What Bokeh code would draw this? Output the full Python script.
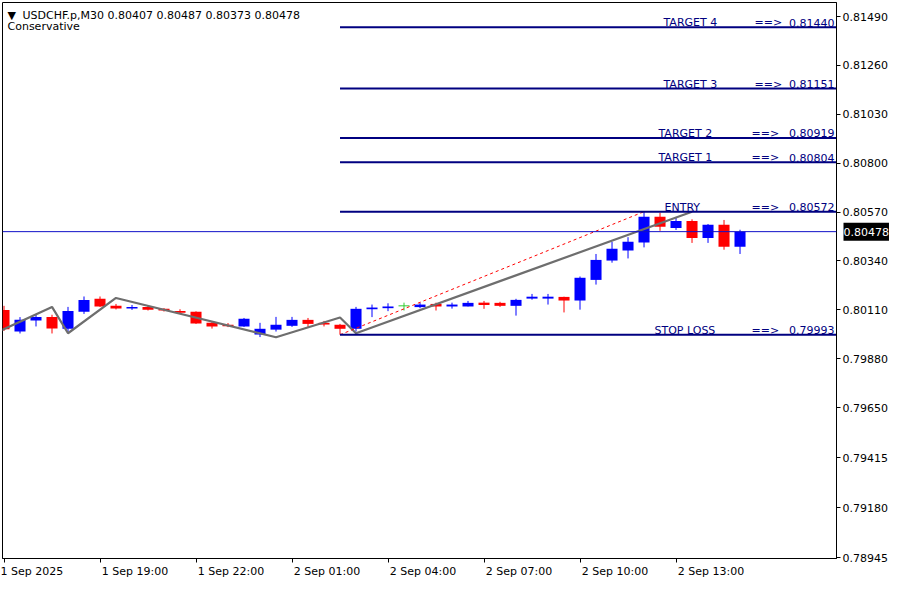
from bokeh.plotting import figure
from bokeh.models import Range1d, FixedTicker, PrintfTickFormatter, Label, ColumnDataSource, Span
from bokeh.embed import file_html
from bokeh.resources import INLINE

# ---------------- data ----------------
symbol = "USDCHF.p,M30"
study = "Conservative"
time_labels = {0: "1 Sep 2025", 6: "1 Sep 19:00", 12: "1 Sep 22:00", 18: "2 Sep 01:00",
               24: "2 Sep 04:00", 30: "2 Sep 07:00", 36: "2 Sep 10:00", 42: "2 Sep 13:00"}

opens = [0.80110, 0.80008, 0.80060, 0.80076, 0.80021, 0.80101, 0.80162, 0.80129, 0.80116, 0.80123,
         0.80115, 0.80105, 0.80101, 0.80049, 0.80040, 0.80032, 0.79994, 0.80017, 0.80035, 0.80063,
         0.80049, 0.80040, 0.80021, 0.80113, 0.80118, 0.80129, 0.80123, 0.80138, 0.80126, 0.80126,
         0.80144, 0.80143, 0.80129, 0.80163, 0.80163, 0.80171, 0.80154, 0.80251, 0.80342, 0.80389,
         0.80427, 0.80548, 0.80495, 0.80528, 0.80448, 0.80510, 0.80407]
highs = [0.80129, 0.80076, 0.80087, 0.80087, 0.80124, 0.80173, 0.80173, 0.80138, 0.80133, 0.80129,
         0.80118, 0.80113, 0.80103, 0.80055, 0.80048, 0.80072, 0.80049, 0.80077, 0.80077, 0.80072,
         0.80058, 0.80044, 0.80124, 0.80135, 0.80141, 0.80144, 0.80144, 0.80144, 0.80144, 0.80152,
         0.80152, 0.80148, 0.80162, 0.80185, 0.80185, 0.80172, 0.80267, 0.80373, 0.80430, 0.80452,
         0.80572, 0.80567, 0.80543, 0.80536, 0.80514, 0.80533, 0.80487]
lows = [0.80011, 0.79999, 0.80032, 0.79999, 0.80005, 0.80091, 0.80124, 0.80112, 0.80110, 0.80107,
        0.80102, 0.80091, 0.80044, 0.80022, 0.80029, 0.80030, 0.79982, 0.80008, 0.80030, 0.80030,
        0.80032, 0.79993, 0.80008, 0.80076, 0.80104, 0.80107, 0.80118, 0.80107, 0.80116, 0.80126,
        0.80115, 0.80124, 0.80083, 0.80158, 0.80135, 0.80098, 0.80111, 0.80229, 0.80332, 0.80352,
        0.80404, 0.80482, 0.80486, 0.80425, 0.80425, 0.80393, 0.80373]
closes = [0.80019, 0.80063, 0.80076, 0.80022, 0.80105, 0.80157, 0.80126, 0.80116, 0.80124, 0.80111,
          0.80107, 0.80096, 0.80046, 0.80032, 0.80033, 0.80068, 0.80021, 0.80040, 0.80063, 0.80044,
          0.80041, 0.80021, 0.80115, 0.80121, 0.80126, 0.80129, 0.80135, 0.80126, 0.80135, 0.80143,
          0.80133, 0.80129, 0.80157, 0.80172, 0.80172, 0.80154, 0.80261, 0.80345, 0.80397, 0.80430,
          0.80548, 0.80501, 0.80528, 0.80448, 0.80510, 0.80407, 0.80478]

zigzag_bar = [-0.2, 3, 4, 7, 17, 21, 22, 43]
zigzag_price = [0.80013, 0.80124, 0.80000, 0.80166, 0.79981, 0.80074, 0.80000, 0.80572]

trend_bar = [21, 40]
trend_price = [0.79993, 0.80572]

level_names = ["TARGET 4", "TARGET 3", "TARGET 2", "TARGET 1", "ENTRY", "STOP LOSS"]
level_prices = [0.81440, 0.81151, 0.80919, 0.80804, 0.80572, 0.79993]
level_start_bar = 21
current_price = 0.80478

price_ticks = [0.78945, 0.79180, 0.79415, 0.79650, 0.79880, 0.80110, 0.80340,
               0.80570, 0.80800, 0.81030, 0.81260, 0.81490]

# ---------------- styles ----------------
FONT = "DejaVu Sans"
UP = "#0000ff"
DOWN = "#ff0000"
DOJI = "#32cd32"
LEVEL = "#000080"
name_offsets = [-173, -173, -178, -178, -172, -182]
arrow_offsets = [-82, -82, -85, -85, -85, -85]

x_start, x_end = -0.094, 52.03
y_end = 0.81556
y_start = y_end - 556 / 21257.0   # keep the price scale at ~21257 px per unit

p = figure(width=898, height=598, output_backend="svg", toolbar_location=None,
           x_range=Range1d(x_start, x_end), y_range=Range1d(y_start, y_end),
           y_axis_location="right",
           min_border_left=2, min_border_top=2, min_border_right=62, min_border_bottom=22)
p.background_fill_color = "white"
p.border_fill_color = "white"
p.outline_line_color = "black"
p.outline_line_width = 1
p.xgrid.visible = False
p.ygrid.visible = False

# axes
for ax in (p.xaxis[0], p.yaxis[0]):
    ax.axis_line_color = "black"
    ax.major_tick_line_color = "black"
    ax.major_tick_out = 4
    ax.major_tick_in = 0
    ax.minor_tick_out = 0
    ax.minor_tick_in = 0
    ax.major_label_text_font = FONT
    ax.major_label_text_font_size = "11px"
    ax.major_label_text_color = "black"
p.yaxis.major_label_standoff = 2
p.xaxis.major_label_standoff = 2

p.yaxis.ticker = FixedTicker(ticks=price_ticks)
p.yaxis.formatter = PrintfTickFormatter(format="%.5f")
first_tick = min(time_labels)
p.xaxis.ticker = FixedTicker(ticks=list(time_labels.keys()))
# MT4 draws time labels starting at the tick: lead with no-break spaces of equal width
p.xaxis.major_label_overrides = {
    k: (v if k == first_tick else "\u00a0" * (round(len(v) * 1.72) + 1) + v)
    for k, v in time_labels.items()}

# candles
idx = list(range(len(opens)))
colors = []
for o, c in zip(opens, closes):
    colors.append(UP if c > o else (DOWN if c < o else DOJI))
src = ColumnDataSource(dict(
    x=idx, o=opens, h=highs, l=lows, c=closes,
    top=[max(o, c) for o, c in zip(opens, closes)],
    bot=[min(o, c) for o, c in zip(opens, closes)],
    color=colors))
p.segment(x0="x", y0="l", x1="x", y1="h", line_color="color", line_width=1, source=src)
p.vbar(x="x", width=0.69, top="top", bottom="bot", fill_color="color", line_color=None, source=src)
doji_x = [i for i, (o, c) in enumerate(zip(opens, closes)) if o == c]
doji_y = [opens[i] for i in doji_x]
p.dash(x=doji_x, y=doji_y, size=11, line_color=DOJI, line_width=1)

# zigzag and trend
p.line(zigzag_bar, zigzag_price, line_color="#6e6e6e", line_width=2.2)
p.line(trend_bar, trend_price, line_color="#ff0000", line_width=1, line_dash="3 3")

# current price line
p.add_layout(Span(location=current_price, dimension="width", line_color="#1010c8", line_width=1))

# levels
p.segment(x0=[level_start_bar] * len(level_prices), x1=[x_end] * len(level_prices),
          y0=level_prices, y1=level_prices, line_color=LEVEL, line_width=2)
for name, price, no, ao in zip(level_names, level_prices, name_offsets, arrow_offsets):
    common = dict(x=x_end, y=price, y_offset=4.5, text_font=FONT, text_font_size="11px",
                  text_color=LEVEL, text_baseline="alphabetic")
    p.add_layout(Label(text=name, x_offset=no, text_align="left", **common))
    p.add_layout(Label(text="==>", x_offset=ao, text_align="left", **common))
    p.add_layout(Label(text=f"{price:.5f}", x_offset=-2, text_align="right", **common))

# header
hdr = dict(x=x_start, y=y_end, text_font=FONT, text_font_size="11px", text_color="black",
           text_baseline="alphabetic", text_align="left")
p.add_layout(Label(text="\u25BC", x_offset=5, y_offset=-13, **hdr))
p.add_layout(Label(text=f"{symbol}  {opens[-1]:.5f} {highs[-1]:.5f} {lows[-1]:.5f} {closes[-1]:.5f}",
                   x_offset=20, y_offset=-13, **hdr))
p.add_layout(Label(text=study, x_offset=5, y_offset=-24, **hdr))

# current price tag on the price scale (side-panel annotation so it is not clipped to the frame)
p.add_layout(Label(x=x_end, y=current_price, x_offset=7, text=f"{current_price:.5f}",
                   text_font=FONT, text_font_size="11px", text_color="white",
                   text_baseline="middle", text_align="left",
                   background_fill_color="black", padding=(0, 5)), "below")

open("out.html", "w").write(file_html(p, INLINE))
